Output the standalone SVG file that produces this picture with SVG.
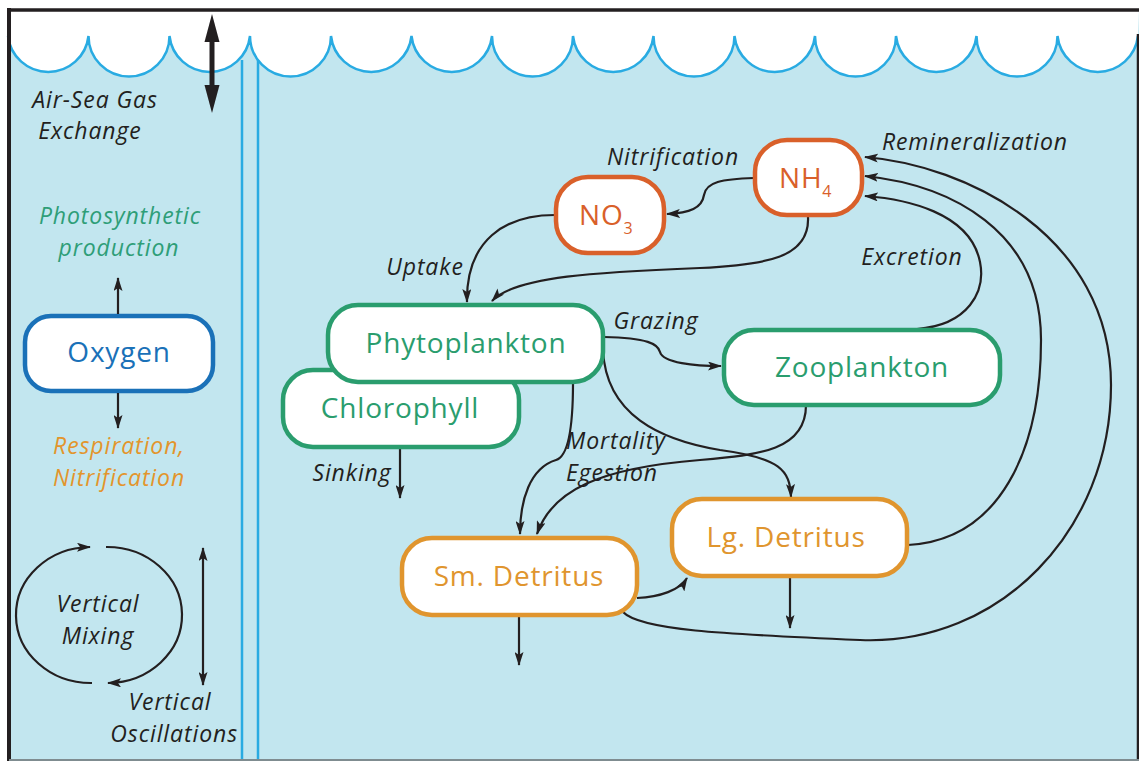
<svg xmlns="http://www.w3.org/2000/svg" width="1139" height="761" viewBox="0 0 1139 761">
<style>
.lbl{font-family:"Open Sans",Lato,"DejaVu Sans",sans-serif;font-style:italic;font-size:23px;letter-spacing:0.9px;fill:#231f20}
.nt{font-family:"Open Sans",Lato,"DejaVu Sans",sans-serif;font-size:28px;letter-spacing:0.8px}
.node{fill:#fff;stroke-width:4.5}
.con{fill:none;stroke:#231f20;stroke-width:2.2}
</style>
<defs>
<marker id="ah" viewBox="0 0 14 9" refX="13" refY="4.5" markerWidth="14" markerHeight="9" markerUnits="userSpaceOnUse" orient="auto">
<path d="M0,0 L14,4.5 L0,9 L3,4.5 z" fill="#231f20"/>
</marker>
<marker id="ahs" viewBox="0 0 14 9" refX="13" refY="4.5" markerWidth="14" markerHeight="9" markerUnits="userSpaceOnUse" orient="auto-start-reverse">
<path d="M0,0 L14,4.5 L0,9 L3,4.5 z" fill="#231f20"/>
</marker>
</defs>
<g id="background">
<rect x="0" y="0" width="1139" height="761" fill="#fff"/>
<rect x="9" y="10" width="1130" height="750" fill="#c2e6ef"/>
<path d="M8,10 L8,36 A40.5,40.5 0 0 0 88.5,36 A40.5,40.5 0 0 0 169.5,36 A40.5,40.5 0 0 0 250,36 A40.5,40.5 0 0 0 331,36 A40.5,40.5 0 0 0 411.5,36 A40.5,40.5 0 0 0 492,36 A40.5,40.5 0 0 0 573,36 A40.5,40.5 0 0 0 653.5,36 A40.5,40.5 0 0 0 734.5,36 A40.5,40.5 0 0 0 815,36 A40.5,40.5 0 0 0 896,36 A40.5,40.5 0 0 0 976.5,36 A40.5,40.5 0 0 0 1057.5,36 A40.5,40.5 0 0 0 1138,36 L1139,10 z" fill="#fff"/>
<path d="M8,36 A40.5,40.5 0 0 0 88.5,36 A40.5,40.5 0 0 0 169.5,36 A40.5,40.5 0 0 0 250,36 A40.5,40.5 0 0 0 331,36 A40.5,40.5 0 0 0 411.5,36 A40.5,40.5 0 0 0 492,36 A40.5,40.5 0 0 0 573,36 A40.5,40.5 0 0 0 653.5,36 A40.5,40.5 0 0 0 734.5,36 A40.5,40.5 0 0 0 815,36 A40.5,40.5 0 0 0 896,36 A40.5,40.5 0 0 0 976.5,36 A40.5,40.5 0 0 0 1057.5,36 A40.5,40.5 0 0 0 1138,36" fill="none" stroke="#29abe2" stroke-width="2.5"/>
<line x1="242" y1="60" x2="242" y2="760" stroke="#29abe2" stroke-width="2.5"/>
<line x1="258" y1="60" x2="258" y2="760" stroke="#29abe2" stroke-width="2.5"/>
<line x1="7" y1="10" x2="1139" y2="10" stroke="#231f20" stroke-width="3.5"/>
<line x1="9" y1="8" x2="9" y2="761" stroke="#231f20" stroke-width="4"/>
<line x1="1138" y1="34" x2="1138" y2="761" stroke="#231f20" stroke-width="2.5"/>
<line x1="9" y1="760" x2="1139" y2="760" stroke="#7f8c90" stroke-width="2"/>
</g>
<g id="air-sea">
<line x1="212" y1="36" x2="212" y2="92" stroke="#231f20" stroke-width="5"/>
<path d="M212,14 L219.5,42 L204.5,42 z" fill="#231f20"/>
<path d="M212,113 L219.5,85 L204.5,85 z" fill="#231f20"/>
<text class="lbl" x="95" y="108" text-anchor="middle">Air-Sea Gas</text>
<text class="lbl" x="90" y="139" text-anchor="middle">Exchange</text>
</g>
<g id="oxygen">
<rect class="node" x="25" y="316" width="188" height="75" rx="26" stroke="#1a71b8"/>
<text class="nt" x="119" y="362" text-anchor="middle" fill="#1a71b8">Oxygen</text>
</g>
<g id="oxygen-labels">
<path class="con" d="M118,314 L118,278" marker-end="url(#ah)"/>
<path class="con" d="M118,393 L118,428" marker-end="url(#ah)"/>
<text class="lbl" x="120" y="224" text-anchor="middle" style="fill:#2e9e78">Photosynthetic</text>
<text class="lbl" x="119" y="256" text-anchor="middle" style="fill:#2e9e78">production</text>
<text class="lbl" x="119" y="454" text-anchor="middle" style="fill:#e3952c">Respiration,</text>
<text class="lbl" x="119" y="486" text-anchor="middle" style="fill:#e3952c">Nitrification</text>
</g>
<g id="mixing">
<path class="con" d="M92,683 A75,68 0 0 1 90,547" marker-end="url(#ah)"/>
<path class="con" d="M106,547 A75,68 0 0 1 108,683" marker-end="url(#ah)"/>
<text class="lbl" x="98" y="612" text-anchor="middle">Vertical</text>
<text class="lbl" x="98" y="644" text-anchor="middle">Mixing</text>
<path class="con" d="M203,548 L203,685" marker-start="url(#ahs)" marker-end="url(#ah)"/>
<text class="lbl" x="170" y="710" text-anchor="middle">Vertical</text>
<text class="lbl" x="238" y="742" text-anchor="end">Oscillations</text>
</g>
<g id="connectors">
<path class="con" d="M754,178 C722,179 706,182 704,195 C702,208 690,213 667,214" marker-end="url(#ah)"/>
<path class="con" d="M555,215 C505,215 466,240 467,302" marker-end="url(#ah)"/>
<path class="con" d="M808,217 C810,258 765,265 700,268 C600,272 515,276 492,301" marker-end="url(#ah)"/>
<path class="con" d="M604,337 C648,338 658,344 660,352 C663,363 695,366 721,366" marker-end="url(#ah)"/>
<path class="con" d="M603,350 C606,415 660,440 720,450 C780,458 790,470 791,497" marker-end="url(#ah)"/>
<path class="con" d="M573,383 C573,420 570,456 556,460 C530,468 520,500 520,534" marker-end="url(#ah)"/>
<path class="con" d="M806,405 C806,450 760,455 700,460 C600,468 552,490 537,534" marker-end="url(#ah)"/>
<path class="con" d="M917,329 C968,325 986,292 980,262 C970,212 905,199 865,196" marker-end="url(#ah)"/>
<path class="con" d="M908,545 C1000,540 1041,450 1041,340 C1041,230 950,185 865,176" marker-end="url(#ah)"/>
<path class="con" d="M623,612 C640,630 720,634 860,640 C1000,646 1111,530 1111,385 C1111,235 965,165 865,157" marker-end="url(#ah)"/>
<path class="con" d="M637,598 C660,597 680,590 687,578" marker-end="url(#ah)"/>
<path class="con" d="M400,447 L400,498" marker-end="url(#ah)"/>
<path class="con" d="M519,616 L519,665" marker-end="url(#ah)"/>
<path class="con" d="M790,577 L790,628" marker-end="url(#ah)"/>
</g>
<g id="chlorophyll">
<rect class="node" x="283" y="370" width="236" height="77" rx="30" stroke="#2a9d6e"/>
<text class="nt" x="400" y="418" text-anchor="middle" fill="#2a9d6e">Chlorophyll</text>
</g>
<g id="phytoplankton">
<rect class="node" x="328" y="305" width="275" height="77" rx="30" stroke="#2a9d6e"/>
<text class="nt" x="466" y="353" text-anchor="middle" fill="#2a9d6e">Phytoplankton</text>
</g>
<g id="zooplankton">
<rect class="node" x="724" y="330" width="276" height="75" rx="30" stroke="#2a9d6e"/>
<text class="nt" x="862" y="377" text-anchor="middle" fill="#2a9d6e">Zooplankton</text>
</g>
<g id="nh4">
<rect class="node" x="755" y="140" width="107" height="75" rx="32" stroke="#d9602a"/>
<text class="nt" x="779" y="188" fill="#d9602a">NH<tspan font-size="16" dy="9">4</tspan></text>
</g>
<g id="no3">
<rect class="node" x="556" y="177" width="108" height="76" rx="32" stroke="#d9602a"/>
<text class="nt" x="579" y="225" fill="#d9602a">NO<tspan font-size="16" dy="9">3</tspan></text>
</g>
<g id="lg-detritus">
<rect class="node" x="672" y="499" width="235" height="77" rx="30" stroke="#e0952e"/>
<text class="nt" x="786" y="547" text-anchor="middle" fill="#e0952e">Lg. Detritus</text>
</g>
<g id="sm-detritus">
<rect class="node" x="402" y="538" width="235" height="77" rx="30" stroke="#e0952e"/>
<text class="nt" x="519" y="586" text-anchor="middle" fill="#e0952e">Sm. Detritus</text>
</g>
<g id="labels">
<text class="lbl" x="673" y="165" text-anchor="middle">Nitrification</text>
<text class="lbl" x="425" y="275" text-anchor="middle">Uptake</text>
<text class="lbl" x="656" y="329" text-anchor="middle">Grazing</text>
<text class="lbl" x="566" y="449">Mortality</text>
<text class="lbl" x="566" y="481">Egestion</text>
<text class="lbl" x="352" y="481" text-anchor="middle">Sinking</text>
<text class="lbl" x="912" y="265" text-anchor="middle">Excretion</text>
<text class="lbl" x="975" y="150" text-anchor="middle">Remineralization</text>
</g>
</svg>
